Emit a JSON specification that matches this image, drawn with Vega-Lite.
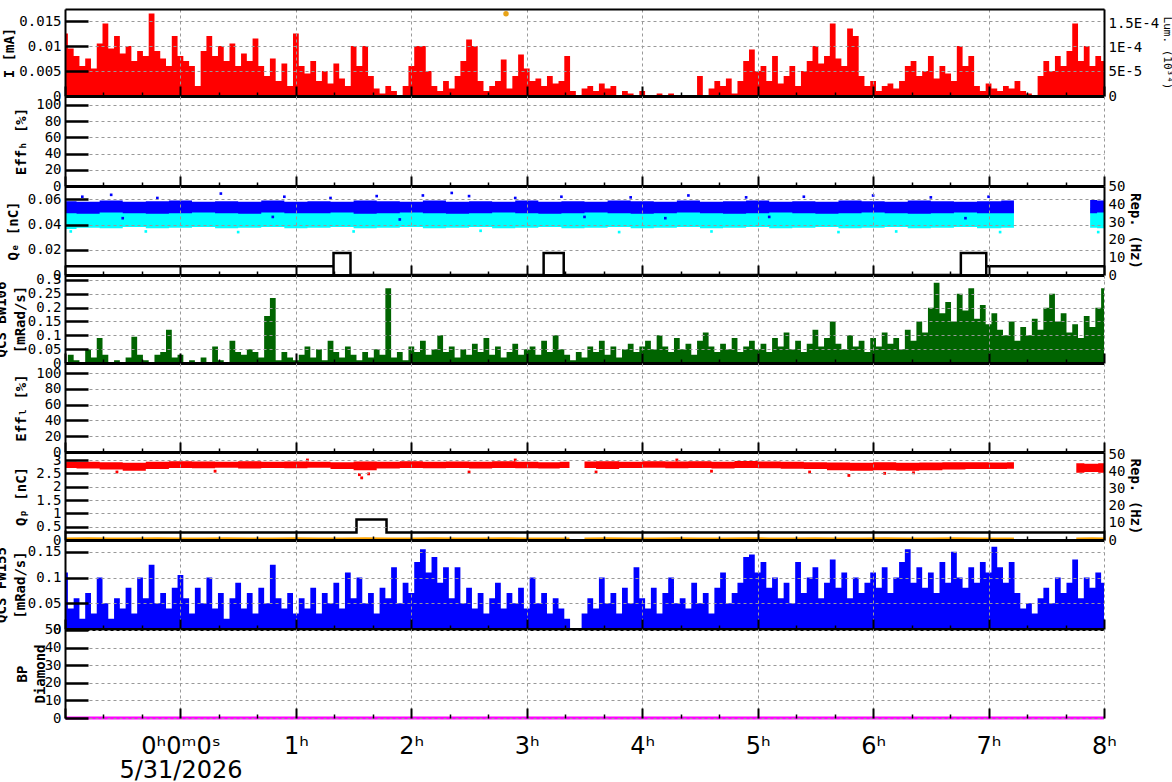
{
"$schema":"https://vega.github.io/schema/vega-lite/v6.json",
"padding":{"left":-6,"top":9,"right":0,"bottom":0},
"background":"white",
"bounds":"flush",
"spacing":0,
"config":{"view":{"stroke":null},
"axis":{"labelFont":"DejaVu Sans Mono","labelFontSize":14,"labelColor":"black","titleFont":"DejaVu Sans Mono","titleFontSize":14,"titleFontWeight":"bold","titleColor":"black","gridColor":"#999999","gridDash":[3,3],"gridWidth":1,"domainColor":"black","labelFlush":false,"labelOverlap":false,"labelBound":false}},
"datasets":{
"ax":[{"t":0,"v":0}],
"ts":[
{"t":-1.00,"i":0.0125,"b":0.000,"f":0.110},{"t":-0.95,"i":0.0095,"b":0.030,"f":0.040},{"t":-0.90,"i":0.0080,"b":0.010,"f":0.060},{"t":-0.85,"i":0.0060,"b":0.000,"f":0.020},{"t":-0.80,"i":0.0075,"b":0.050,"f":0.070},
{"t":-0.75,"i":0.0055,"b":0.020,"f":0.030},{"t":-0.70,"i":0.0105,"b":0.090,"f":0.100},{"t":-0.65,"i":0.0145,"b":0.030,"f":0.050},{"t":-0.60,"i":0.0095,"b":0.000,"f":0.020},{"t":-0.55,"i":0.0120,"b":0.010,"f":0.060},
{"t":-0.50,"i":0.0085,"b":0.000,"f":0.040},{"t":-0.45,"i":0.0100,"b":0.020,"f":0.080},{"t":-0.40,"i":0.0070,"b":0.095,"f":0.030},{"t":-0.35,"i":0.0090,"b":0.030,"f":0.100},{"t":-0.30,"i":0.0080,"b":0.010,"f":0.060},
{"t":-0.25,"i":0.0165,"b":0.000,"f":0.125},{"t":-0.20,"i":0.0090,"b":0.030,"f":0.050},{"t":-0.15,"i":0.0075,"b":0.040,"f":0.070},{"t":-0.10,"i":0.0060,"b":0.120,"f":0.040},{"t":-0.05,"i":0.0120,"b":0.020,"f":0.080},
{"t":0.00,"i":0.0080,"b":0.030,"f":0.105},{"t":0.05,"i":0.0070,"b":0.000,"f":0.060},{"t":0.10,"i":0.0060,"b":0.010,"f":0.030},{"t":0.15,"i":0.0020,"b":0.000,"f":0.080},{"t":0.20,"i":0.0090,"b":0.020,"f":0.050},
{"t":0.25,"i":0.0120,"b":0.000,"f":0.100},{"t":0.30,"i":0.0080,"b":0.060,"f":0.040},{"t":0.35,"i":0.0100,"b":0.010,"f":0.070},{"t":0.40,"i":0.0070,"b":0.000,"f":0.020},{"t":0.45,"i":0.0105,"b":0.080,"f":0.060},
{"t":0.50,"i":0.0060,"b":0.040,"f":0.090},{"t":0.55,"i":0.0085,"b":0.030,"f":0.040},{"t":0.60,"i":0.0070,"b":0.050,"f":0.070},{"t":0.65,"i":0.0115,"b":0.040,"f":0.030},{"t":0.70,"i":0.0060,"b":0.020,"f":0.080},
{"t":0.75,"i":0.0040,"b":0.170,"f":0.050},{"t":0.80,"i":0.0075,"b":0.235,"f":0.125},{"t":0.85,"i":0.0030,"b":0.010,"f":0.060},{"t":0.90,"i":0.0065,"b":0.040,"f":0.040},{"t":0.95,"i":0.0020,"b":0.020,"f":0.070},
{"t":1.00,"i":0.0125,"b":0.010,"f":0.030},{"t":1.05,"i":0.0060,"b":0.030,"f":0.060},{"t":1.10,"i":0.0045,"b":0.060,"f":0.040},{"t":1.15,"i":0.0070,"b":0.020,"f":0.080},{"t":1.20,"i":0.0030,"b":0.050,"f":0.030},
{"t":1.25,"i":0.0050,"b":0.010,"f":0.070},{"t":1.30,"i":0.0025,"b":0.080,"f":0.050},{"t":1.35,"i":0.0065,"b":0.040,"f":0.090},{"t":1.40,"i":0.0035,"b":0.020,"f":0.040},{"t":1.45,"i":0.0020,"b":0.060,"f":0.110},
{"t":1.50,"i":0.0100,"b":0.030,"f":0.060},{"t":1.55,"i":0.0060,"b":0.010,"f":0.100},{"t":1.60,"i":0.0100,"b":0.040,"f":0.050},{"t":1.65,"i":0.0040,"b":0.020,"f":0.070},{"t":1.70,"i":0.0015,"b":0.050,"f":0.030},
{"t":1.75,"i":0.0005,"b":0.030,"f":0.080},{"t":1.80,"i":0.0020,"b":0.270,"f":0.060},{"t":1.85,"i":0.0010,"b":0.020,"f":0.120},{"t":1.90,"i":0.0000,"b":0.040,"f":0.050},{"t":1.95,"i":0.0020,"b":0.010,"f":0.090},
{"t":2.00,"i":0.0060,"b":0.060,"f":0.070},{"t":2.05,"i":0.0100,"b":0.040,"f":0.130},{"t":2.10,"i":0.0100,"b":0.080,"f":0.155},{"t":2.15,"i":0.0050,"b":0.030,"f":0.110},{"t":2.20,"i":0.0020,"b":0.050,"f":0.140},
{"t":2.25,"i":0.0010,"b":0.100,"f":0.090},{"t":2.30,"i":0.0030,"b":0.040,"f":0.120},{"t":2.35,"i":0.0015,"b":0.060,"f":0.060},{"t":2.40,"i":0.0040,"b":0.020,"f":0.120},{"t":2.45,"i":0.0070,"b":0.050,"f":0.050},
{"t":2.50,"i":0.0113,"b":0.030,"f":0.080},{"t":2.55,"i":0.0100,"b":0.070,"f":0.040},{"t":2.60,"i":0.0030,"b":0.040,"f":0.070},{"t":2.65,"i":0.0010,"b":0.090,"f":0.030},{"t":2.70,"i":0.0020,"b":0.030,"f":0.060},
{"t":2.75,"i":0.0030,"b":0.060,"f":0.090},{"t":2.80,"i":0.0073,"b":0.020,"f":0.040},{"t":2.85,"i":0.0015,"b":0.040,"f":0.070},{"t":2.90,"i":0.0040,"b":0.070,"f":0.050},{"t":2.95,"i":0.0083,"b":0.030,"f":0.080},
{"t":3.00,"i":0.0055,"b":0.050,"f":0.040},{"t":3.05,"i":0.0030,"b":0.060,"f":0.100},{"t":3.10,"i":0.0035,"b":0.030,"f":0.050},{"t":3.15,"i":0.0020,"b":0.080,"f":0.070},{"t":3.20,"i":0.0040,"b":0.040,"f":0.030},
{"t":3.25,"i":0.0025,"b":0.100,"f":0.060},{"t":3.30,"i":0.0030,"b":0.050,"f":0.040},{"t":3.35,"i":0.0080,"b":0.030,"f":0.020},{"t":3.40,"i":0.0010,"b":0.010,"f":0.000},{"t":3.45,"i":0.0000,"b":0.040,"f":0.000},
{"t":3.50,"i":0.0015,"b":0.020,"f":0.030},{"t":3.55,"i":0.0020,"b":0.060,"f":0.060},{"t":3.60,"i":0.0010,"b":0.040,"f":0.040},{"t":3.65,"i":0.0025,"b":0.080,"f":0.100},{"t":3.70,"i":0.0015,"b":0.030,"f":0.050},
{"t":3.75,"i":0.0020,"b":0.060,"f":0.070},{"t":3.80,"i":0.0000,"b":0.020,"f":0.030},{"t":3.85,"i":0.0010,"b":0.050,"f":0.080},{"t":3.90,"i":0.0005,"b":0.070,"f":0.050},{"t":3.95,"i":0.0000,"b":0.040,"f":0.120},
{"t":4.00,"i":0.0010,"b":0.060,"f":0.060},{"t":4.05,"i":0.0000,"b":0.080,"f":0.040},{"t":4.10,"i":0.0000,"b":0.050,"f":0.080},{"t":4.15,"i":0.0005,"b":0.100,"f":0.030},{"t":4.20,"i":0.0000,"b":0.060,"f":0.070},
{"t":4.25,"i":0.0005,"b":0.040,"f":0.100},{"t":4.30,"i":0.0000,"b":0.090,"f":0.050},{"t":4.35,"i":0.0000,"b":0.050,"f":0.060},{"t":4.40,"i":0.0000,"b":0.070,"f":0.040},{"t":4.45,"i":0.0000,"b":0.030,"f":0.090},
{"t":4.50,"i":0.0040,"b":0.080,"f":0.050},{"t":4.55,"i":0.0000,"b":0.110,"f":0.070},{"t":4.60,"i":0.0015,"b":0.060,"f":0.030},{"t":4.65,"i":0.0030,"b":0.040,"f":0.080},{"t":4.70,"i":0.0020,"b":0.070,"f":0.110},
{"t":4.75,"i":0.0035,"b":0.050,"f":0.050},{"t":4.80,"i":0.0005,"b":0.090,"f":0.070},{"t":4.85,"i":0.0030,"b":0.040,"f":0.090},{"t":4.90,"i":0.0070,"b":0.060,"f":0.140},{"t":4.95,"i":0.0093,"b":0.080,"f":0.145},
{"t":5.00,"i":0.0050,"b":0.050,"f":0.110},{"t":5.05,"i":0.0060,"b":0.070,"f":0.130},{"t":5.10,"i":0.0030,"b":0.040,"f":0.080},{"t":5.15,"i":0.0080,"b":0.090,"f":0.100},{"t":5.20,"i":0.0025,"b":0.060,"f":0.060},
{"t":5.25,"i":0.0040,"b":0.110,"f":0.090},{"t":5.30,"i":0.0060,"b":0.050,"f":0.050},{"t":5.35,"i":0.0020,"b":0.080,"f":0.130},{"t":5.40,"i":0.0050,"b":0.040,"f":0.070},{"t":5.45,"i":0.0070,"b":0.070,"f":0.100},
{"t":5.50,"i":0.0100,"b":0.120,"f":0.120},{"t":5.55,"i":0.0065,"b":0.060,"f":0.060},{"t":5.60,"i":0.0080,"b":0.090,"f":0.090},{"t":5.65,"i":0.0145,"b":0.150,"f":0.135},{"t":5.70,"i":0.0075,"b":0.070,"f":0.080},
{"t":5.75,"i":0.0060,"b":0.050,"f":0.110},{"t":5.80,"i":0.0135,"b":0.100,"f":0.060},{"t":5.85,"i":0.0120,"b":0.060,"f":0.100},{"t":5.90,"i":0.0040,"b":0.080,"f":0.070},{"t":5.95,"i":0.0020,"b":0.040,"f":0.090},
{"t":6.00,"i":0.0030,"b":0.090,"f":0.110},{"t":6.05,"i":0.0010,"b":0.060,"f":0.080},{"t":6.10,"i":0.0020,"b":0.110,"f":0.120},{"t":6.15,"i":0.0025,"b":0.070,"f":0.070},{"t":6.20,"i":0.0015,"b":0.090,"f":0.100},
{"t":6.25,"i":0.0030,"b":0.050,"f":0.130},{"t":6.30,"i":0.0060,"b":0.120,"f":0.155},{"t":6.35,"i":0.0070,"b":0.080,"f":0.090},{"t":6.40,"i":0.0040,"b":0.150,"f":0.120},{"t":6.45,"i":0.0050,"b":0.110,"f":0.080},
{"t":6.50,"i":0.0080,"b":0.200,"f":0.110},{"t":6.55,"i":0.0035,"b":0.290,"f":0.070},{"t":6.60,"i":0.0060,"b":0.180,"f":0.130},{"t":6.65,"i":0.0045,"b":0.220,"f":0.090},{"t":6.70,"i":0.0030,"b":0.150,"f":0.150},
{"t":6.75,"i":0.0100,"b":0.250,"f":0.100},{"t":6.80,"i":0.0060,"b":0.190,"f":0.080},{"t":6.85,"i":0.0080,"b":0.270,"f":0.120},{"t":6.90,"i":0.0020,"b":0.160,"f":0.090},{"t":6.95,"i":0.0010,"b":0.210,"f":0.130},
{"t":7.00,"i":0.0025,"b":0.140,"f":0.110},{"t":7.05,"i":0.0015,"b":0.180,"f":0.160},{"t":7.10,"i":0.0010,"b":0.120,"f":0.120},{"t":7.15,"i":0.0020,"b":0.100,"f":0.090},{"t":7.20,"i":0.0015,"b":0.150,"f":0.130},
{"t":7.25,"i":0.0030,"b":0.080,"f":0.070},{"t":7.30,"i":0.0010,"b":0.130,"f":0.040},{"t":7.35,"i":0.0005,"b":0.100,"f":0.050},{"t":7.40,"i":0.0000,"b":0.160,"f":0.030},{"t":7.45,"i":0.0040,"b":0.120,"f":0.060},
{"t":7.50,"i":0.0070,"b":0.200,"f":0.080},{"t":7.55,"i":0.0050,"b":0.250,"f":0.050},{"t":7.60,"i":0.0080,"b":0.150,"f":0.100},{"t":7.65,"i":0.0060,"b":0.180,"f":0.070},{"t":7.70,"i":0.0090,"b":0.110,"f":0.090},
{"t":7.75,"i":0.0145,"b":0.140,"f":0.135},{"t":7.80,"i":0.0070,"b":0.090,"f":0.060},{"t":7.85,"i":0.0100,"b":0.170,"f":0.100},{"t":7.90,"i":0.0060,"b":0.130,"f":0.080},{"t":7.95,"i":0.0080,"b":0.200,"f":0.110},
{"t":8.00,"i":0.0070,"b":0.270,"f":0.090}],
"qe":[
{"t":-1.0,"seg":1,"clo":0.0365,"chi":0.0520,"blo":0.0490,"bhi":0.0585},{"t":-0.8,"seg":1,"clo":0.0375,"chi":0.0515,"blo":0.0485,"bhi":0.0580},{"t":-0.6,"seg":1,"clo":0.0370,"chi":0.0525,"blo":0.0495,"bhi":0.0590},{"t":-0.4,"seg":1,"clo":0.0380,"chi":0.0520,"blo":0.0490,"bhi":0.0580},
{"t":-0.2,"seg":1,"clo":0.0370,"chi":0.0515,"blo":0.0485,"bhi":0.0585},{"t":0.0,"seg":1,"clo":0.0375,"chi":0.0520,"blo":0.0490,"bhi":0.0590},{"t":0.2,"seg":1,"clo":0.0380,"chi":0.0525,"blo":0.0495,"bhi":0.0580},{"t":0.4,"seg":1,"clo":0.0370,"chi":0.0515,"blo":0.0490,"bhi":0.0585},
{"t":0.6,"seg":1,"clo":0.0375,"chi":0.0520,"blo":0.0485,"bhi":0.0580},{"t":0.8,"seg":1,"clo":0.0380,"chi":0.0525,"blo":0.0495,"bhi":0.0590},{"t":1.0,"seg":1,"clo":0.0370,"chi":0.0515,"blo":0.0490,"bhi":0.0580},{"t":1.2,"seg":1,"clo":0.0375,"chi":0.0520,"blo":0.0490,"bhi":0.0585},
{"t":1.4,"seg":1,"clo":0.0380,"chi":0.0525,"blo":0.0495,"bhi":0.0580},{"t":1.6,"seg":1,"clo":0.0370,"chi":0.0515,"blo":0.0485,"bhi":0.0590},{"t":1.8,"seg":1,"clo":0.0375,"chi":0.0520,"blo":0.0490,"bhi":0.0585},{"t":2.0,"seg":1,"clo":0.0380,"chi":0.0520,"blo":0.0495,"bhi":0.0580},
{"t":2.2,"seg":1,"clo":0.0370,"chi":0.0525,"blo":0.0490,"bhi":0.0590},{"t":2.4,"seg":1,"clo":0.0375,"chi":0.0515,"blo":0.0485,"bhi":0.0580},{"t":2.6,"seg":1,"clo":0.0380,"chi":0.0520,"blo":0.0490,"bhi":0.0585},{"t":2.8,"seg":1,"clo":0.0370,"chi":0.0525,"blo":0.0495,"bhi":0.0580},
{"t":3.0,"seg":1,"clo":0.0375,"chi":0.0515,"blo":0.0490,"bhi":0.0590},{"t":3.2,"seg":1,"clo":0.0380,"chi":0.0520,"blo":0.0485,"bhi":0.0580},{"t":3.4,"seg":1,"clo":0.0370,"chi":0.0525,"blo":0.0490,"bhi":0.0585},{"t":3.6,"seg":1,"clo":0.0375,"chi":0.0520,"blo":0.0495,"bhi":0.0580},
{"t":3.8,"seg":1,"clo":0.0380,"chi":0.0515,"blo":0.0490,"bhi":0.0590},{"t":4.0,"seg":1,"clo":0.0370,"chi":0.0520,"blo":0.0485,"bhi":0.0585},{"t":4.2,"seg":1,"clo":0.0375,"chi":0.0525,"blo":0.0490,"bhi":0.0580},{"t":4.4,"seg":1,"clo":0.0380,"chi":0.0515,"blo":0.0495,"bhi":0.0590},
{"t":4.6,"seg":1,"clo":0.0370,"chi":0.0520,"blo":0.0490,"bhi":0.0580},{"t":4.8,"seg":1,"clo":0.0375,"chi":0.0525,"blo":0.0485,"bhi":0.0585},{"t":5.0,"seg":1,"clo":0.0380,"chi":0.0520,"blo":0.0490,"bhi":0.0590},{"t":5.2,"seg":1,"clo":0.0370,"chi":0.0515,"blo":0.0495,"bhi":0.0580},
{"t":5.4,"seg":1,"clo":0.0375,"chi":0.0520,"blo":0.0490,"bhi":0.0585},{"t":5.6,"seg":1,"clo":0.0380,"chi":0.0525,"blo":0.0485,"bhi":0.0580},{"t":5.8,"seg":1,"clo":0.0370,"chi":0.0520,"blo":0.0490,"bhi":0.0590},{"t":6.0,"seg":1,"clo":0.0375,"chi":0.0515,"blo":0.0495,"bhi":0.0585},
{"t":6.2,"seg":1,"clo":0.0380,"chi":0.0520,"blo":0.0490,"bhi":0.0580},{"t":6.4,"seg":1,"clo":0.0370,"chi":0.0525,"blo":0.0485,"bhi":0.0590},{"t":6.6,"seg":1,"clo":0.0375,"chi":0.0520,"blo":0.0490,"bhi":0.0585},{"t":6.8,"seg":1,"clo":0.0380,"chi":0.0515,"blo":0.0495,"bhi":0.0580},
{"t":7.0,"seg":1,"clo":0.0370,"chi":0.0520,"blo":0.0490,"bhi":0.0585},{"t":7.22,"seg":1,"clo":0.0375,"chi":0.0525,"blo":0.0490,"bhi":0.0590},
{"t":7.88,"seg":2,"clo":0.0375,"chi":0.0530,"blo":0.0490,"bhi":0.0595},{"t":8.0,"seg":2,"clo":0.0370,"chi":0.0525,"blo":0.0495,"bhi":0.0590}],
"qeo":[
{"t":-0.85,"v":0.062,"s":"b"},{"t":-0.6,"v":0.0635,"s":"b"},{"t":-0.2,"v":0.061,"s":"b"},{"t":0.35,"v":0.0645,"s":"b"},{"t":0.9,"v":0.062,"s":"b"},{"t":1.3,"v":0.061,"s":"b"},{"t":1.7,"v":0.0625,"s":"b"},{"t":2.1,"v":0.063,"s":"b"},{"t":2.35,"v":0.065,"s":"b"},{"t":2.5,"v":0.0625,"s":"b"},{"t":2.9,"v":0.061,"s":"b"},{"t":3.3,"v":0.062,"s":"b"},{"t":3.9,"v":0.0615,"s":"b"},{"t":4.4,"v":0.063,"s":"b"},{"t":4.9,"v":0.0615,"s":"b"},{"t":5.4,"v":0.062,"s":"b"},{"t":6.0,"v":0.063,"s":"b"},{"t":6.5,"v":0.0615,"s":"b"},{"t":7.0,"v":0.062,"s":"b"},
{"t":-0.5,"v":0.045,"s":"b"},{"t":0.8,"v":0.046,"s":"b"},{"t":1.9,"v":0.044,"s":"b"},{"t":3.5,"v":0.046,"s":"b"},{"t":4.2,"v":0.045,"s":"b"},{"t":5.1,"v":0.046,"s":"b"},{"t":6.8,"v":0.045,"s":"b"},
{"t":-0.95,"v":0.0345,"s":"c"},{"t":-0.3,"v":0.0345,"s":"c"},{"t":0.5,"v":0.034,"s":"c"},{"t":1.5,"v":0.0345,"s":"c"},{"t":2.6,"v":0.035,"s":"c"},{"t":3.8,"v":0.034,"s":"c"},{"t":4.6,"v":0.0345,"s":"c"},{"t":5.7,"v":0.034,"s":"c"},{"t":6.2,"v":0.0345,"s":"c"},{"t":7.1,"v":0.034,"s":"c"},{"t":7.95,"v":0.034,"s":"c"}],
"qp":[
{"t":-1.0,"seg":1,"lo":2.70,"hi":2.94,"o":0.04},{"t":-0.8,"seg":1,"lo":2.68,"hi":2.93,"o":0.05},{"t":-0.6,"seg":1,"lo":2.64,"hi":2.92,"o":0.04},{"t":-0.4,"seg":1,"lo":2.60,"hi":2.90,"o":0.04},{"t":-0.2,"seg":1,"lo":2.66,"hi":2.93,"o":0.05},
{"t":0.0,"seg":1,"lo":2.70,"hi":2.95,"o":0.04},{"t":0.2,"seg":1,"lo":2.69,"hi":2.94,"o":0.04},{"t":0.4,"seg":1,"lo":2.71,"hi":2.93,"o":0.05},{"t":0.6,"seg":1,"lo":2.68,"hi":2.95,"o":0.04},{"t":0.8,"seg":1,"lo":2.70,"hi":2.93,"o":0.04},
{"t":1.0,"seg":1,"lo":2.69,"hi":2.94,"o":0.05},{"t":1.2,"seg":1,"lo":2.71,"hi":2.93,"o":0.04},{"t":1.4,"seg":1,"lo":2.66,"hi":2.92,"o":0.04},{"t":1.6,"seg":1,"lo":2.62,"hi":2.94,"o":0.05},{"t":1.8,"seg":1,"lo":2.68,"hi":2.93,"o":0.04},
{"t":2.0,"seg":1,"lo":2.70,"hi":2.95,"o":0.04},{"t":2.2,"seg":1,"lo":2.69,"hi":2.93,"o":0.05},{"t":2.4,"seg":1,"lo":2.70,"hi":2.94,"o":0.04},{"t":2.6,"seg":1,"lo":2.68,"hi":2.93,"o":0.04},{"t":2.8,"seg":1,"lo":2.70,"hi":2.95,"o":0.05},
{"t":3.0,"seg":1,"lo":2.69,"hi":2.93,"o":0.04},{"t":3.2,"seg":1,"lo":2.68,"hi":2.92,"o":0.04},{"t":3.37,"seg":1,"lo":2.70,"hi":2.93,"o":0.04},
{"t":3.5,"seg":2,"lo":2.70,"hi":2.94,"o":0.04},{"t":3.7,"seg":2,"lo":2.66,"hi":2.95,"o":0.05},{"t":3.9,"seg":2,"lo":2.70,"hi":2.93,"o":0.04},{"t":4.1,"seg":2,"lo":2.71,"hi":2.95,"o":0.04},{"t":4.3,"seg":2,"lo":2.69,"hi":2.94,"o":0.05},
{"t":4.5,"seg":2,"lo":2.70,"hi":2.95,"o":0.04},{"t":4.7,"seg":2,"lo":2.68,"hi":2.93,"o":0.04},{"t":4.9,"seg":2,"lo":2.70,"hi":2.96,"o":0.05},{"t":5.1,"seg":2,"lo":2.69,"hi":2.94,"o":0.04},{"t":5.3,"seg":2,"lo":2.67,"hi":2.93,"o":0.04},
{"t":5.5,"seg":2,"lo":2.66,"hi":2.92,"o":0.05},{"t":5.7,"seg":2,"lo":2.62,"hi":2.91,"o":0.04},{"t":5.9,"seg":2,"lo":2.60,"hi":2.90,"o":0.04},{"t":6.1,"seg":2,"lo":2.62,"hi":2.92,"o":0.05},{"t":6.3,"seg":2,"lo":2.60,"hi":2.90,"o":0.04},
{"t":6.5,"seg":2,"lo":2.62,"hi":2.91,"o":0.04},{"t":6.7,"seg":2,"lo":2.64,"hi":2.92,"o":0.05},{"t":6.9,"seg":2,"lo":2.66,"hi":2.92,"o":0.04},{"t":7.1,"seg":2,"lo":2.66,"hi":2.91,"o":0.04},{"t":7.22,"seg":2,"lo":2.67,"hi":2.92,"o":0.04},
{"t":7.76,"seg":3,"lo":2.52,"hi":2.88,"o":0.04},{"t":7.9,"seg":3,"lo":2.55,"hi":2.86,"o":0.05},{"t":8.0,"seg":3,"lo":2.52,"hi":2.88,"o":0.04}],
"qpo":[{"t":1.57,"v":2.33},{"t":1.55,"v":2.45},{"t":1.63,"v":2.48},{"t":-0.55,"v":2.55},{"t":2.5,"v":2.55},{"t":3.6,"v":2.55},{"t":4.6,"v":2.58},{"t":5.45,"v":2.55},{"t":5.79,"v":2.42},{"t":6.1,"v":2.5},{"t":6.35,"v":2.52},{"t":0.3,"v":2.58},{"t":4.3,"v":3.0},{"t":2.9,"v":3.0},{"t":1.1,"v":3.0}],
"repe":[{"k":0,"t":-1,"v":5},{"k":1,"t":1.326,"v":5},{"k":2,"t":1.326,"v":0},{"k":3,"t":1.326,"v":12.5},{"k":4,"t":1.473,"v":12.5},{"k":5,"t":1.473,"v":0},{"k":6,"t":3.146,"v":0},{"k":7,"t":3.146,"v":12.5},{"k":8,"t":3.32,"v":12.5},{"k":9,"t":3.32,"v":0},{"k":10,"t":6.76,"v":0},{"k":11,"t":6.76,"v":12.5},{"k":12,"t":6.98,"v":12.5},{"k":13,"t":6.98,"v":0},{"k":14,"t":6.98,"v":5},{"k":15,"t":8,"v":5}],
"repp":[{"k":0,"t":-1,"v":4.4},{"k":1,"t":1.525,"v":4.4},{"k":2,"t":1.525,"v":12},{"k":3,"t":1.785,"v":12},{"k":4,"t":1.785,"v":4.4},{"k":5,"t":8,"v":4.4}],
"lum":[{"t":2.82,"v":0.000171}],
"bp":[{"t":-1,"v":0},{"t":8,"v":0}]
},
"vconcat":[
{"width":1039,"height":87,"layer":[
{"data":{"name":"ts"},"mark":{"type":"area","interpolate":"step","color":"#FF0000"},"encoding":{"x":{"field":"t","type":"quantitative","scale":{"domain":[-1,8],"nice":false,"zero":false},"axis":{"orient":"bottom","values":[0,1,2,3,4,5,6,7,8],"grid":true,"ticks":false,"labels":false,"domain":true,"domainWidth":3,"title":null,"zindex":1}},"y":{"field":"i","type":"quantitative","scale":{"domain":[0,0.0174],"nice":false},"axis":{"orient":"left","values":[0,0.005,0.01,0.015],"format":"~r","grid":true,"ticks":true,"tickSize":-23,"tickWidth":2.5,"tickColor":"#000000","domain":true,"domainWidth":2,"zindex":1,"labelPadding":27,"title":"I [mA]","titleX":-56,"titleY":43.5,"titleAngle":270,"titleAlign":"center","titleBaseline":"middle"}}}},
{"data":{"name":"ax"},"mark":{"type":"point","opacity":0},"encoding":{"x":{"field":"t","type":"quantitative","scale":{"domain":[-1,8],"nice":false,"zero":false},"axis":{"orient":"bottom","offset":-10,"values":[-1,0,1,2,3,4,5,6,7,8],"ticks":true,"tickSize":10,"tickWidth":2,"tickColor":"#000000","labels":false,"grid":false,"domain":false,"title":null,"zindex":1}},"y":{"field":"v","type":"quantitative","scale":{"domain":[0,0.0174],"nice":false},"axis":null}}},
{"data":{"name":"ax"},"mark":{"type":"point","opacity":0},"encoding":{"x":{"field":"t","type":"quantitative","scale":{"domain":[-1,8],"nice":false,"zero":false},"axis":{"orient":"bottom","offset":-4,"values":[-0.6667,-0.3333,0.3333,0.6667,1.3333,1.6667,2.3333,2.6667,3.3333,3.6667,4.3333,4.6667,5.3333,5.6667,6.3333,6.6667,7.3333,7.6667],"ticks":true,"tickSize":4,"tickWidth":1.5,"tickColor":"#000000","labels":false,"grid":false,"domain":false,"title":null,"zindex":1}},"y":{"field":"v","type":"quantitative","scale":{"domain":[0,0.0174],"nice":false},"axis":null}}},
{"data":{"name":"lum"},"mark":{"type":"circle","color":"#E8A317","size":30,"opacity":1},"encoding":{"x":{"field":"t","type":"quantitative","scale":{"domain":[-1,8],"nice":false,"zero":false},"axis":{"orient":"top","ticks":false,"labels":false,"grid":false,"domain":true,"domainWidth":2,"title":null,"zindex":1}},"y":{"field":"v","type":"quantitative","scale":{"domain":[0,0.000181],"nice":false},"axis":{"orient":"right","values":[0,0.00005,0.0001,0.00015],"labelExpr":"datum.value==0?'0':datum.value<0.00006?'5E-5':datum.value<0.00011?'1E-4':'1.5E-4'","grid":false,"ticks":false,"domain":true,"domainWidth":2,"zindex":1,"labelPadding":4,"title":"Lum. (10³⁴)","titleX":62,"titleY":43.5,"titleAngle":90,"titleAlign":"center","titleBaseline":"middle","titleFontWeight":"normal","titleFontSize":11}}}}
],"resolve":{"scale":{"y":"independent"},"axis":{"x":"independent","y":"independent"}}},

{"width":1039,"height":90,"layer":[
{"data":{"name":"ax"},"mark":{"type":"point","opacity":0},"encoding":{"x":{"field":"t","type":"quantitative","scale":{"domain":[-1,8],"nice":false,"zero":false},"axis":{"orient":"bottom","values":[0,1,2,3,4,5,6,7,8],"grid":true,"ticks":false,"labels":false,"domain":true,"domainWidth":3,"title":null,"zindex":1}},"y":{"field":"v","type":"quantitative","scale":{"domain":[0,111],"nice":false},"axis":{"orient":"left","values":[0,20,40,60,80,100],"format":"~r","grid":true,"ticks":true,"tickSize":-23,"tickWidth":2.5,"tickColor":"#000000","domain":true,"domainWidth":2,"zindex":1,"labelPadding":27,"title":"Effₕ [%]","titleX":-44,"titleY":45,"titleAngle":270,"titleAlign":"center","titleBaseline":"middle"}}}},
{"data":{"name":"ax"},"mark":{"type":"point","opacity":0},"encoding":{"x":{"field":"t","type":"quantitative","scale":{"domain":[-1,8],"nice":false,"zero":false},"axis":{"orient":"bottom","offset":-10,"values":[-1,0,1,2,3,4,5,6,7,8],"ticks":true,"tickSize":10,"tickWidth":2,"tickColor":"#000000","labels":false,"grid":false,"domain":false,"title":null,"zindex":1}},"y":{"field":"v","type":"quantitative","scale":{"domain":[0,111],"nice":false},"axis":null}}},
{"data":{"name":"ax"},"mark":{"type":"point","opacity":0},"encoding":{"x":{"field":"t","type":"quantitative","scale":{"domain":[-1,8],"nice":false,"zero":false},"axis":{"orient":"bottom","offset":-4,"values":[-0.6667,-0.3333,0.3333,0.6667,1.3333,1.6667,2.3333,2.6667,3.3333,3.6667,4.3333,4.6667,5.3333,5.6667,6.3333,6.6667,7.3333,7.6667],"ticks":true,"tickSize":4,"tickWidth":1.5,"tickColor":"#000000","labels":false,"grid":false,"domain":false,"title":null,"zindex":1}},"y":{"field":"v","type":"quantitative","scale":{"domain":[0,111],"nice":false},"axis":null}}}
],"resolve":{"scale":{"y":"independent"},"axis":{"x":"independent","y":"independent"}}},

{"width":1039,"height":89,"layer":[
{"data":{"name":"qe"},"mark":{"type":"area","interpolate":"step","color":"#00FFFF"},"encoding":{"detail":{"field":"seg"},"x":{"field":"t","type":"quantitative","scale":{"domain":[-1,8],"nice":false,"zero":false},"axis":{"orient":"bottom","values":[0,1,2,3,4,5,6,7,8],"grid":true,"ticks":false,"labels":false,"domain":true,"domainWidth":3,"title":null,"zindex":1}},"y":{"field":"clo","type":"quantitative","scale":{"domain":[0,0.0705],"nice":false},"axis":{"orient":"left","values":[0,0.02,0.04,0.06],"format":"~r","grid":true,"ticks":true,"tickSize":-23,"tickWidth":2.5,"tickColor":"#000000","domain":true,"domainWidth":2,"zindex":1,"labelPadding":27,"title":"Qₑ [nC]","titleX":-52,"titleY":44.5,"titleAngle":270,"titleAlign":"center","titleBaseline":"middle"}},"y2":{"field":"chi"}}},
{"data":{"name":"qe"},"mark":{"type":"area","interpolate":"step","color":"#0000FF"},"encoding":{"detail":{"field":"seg"},"x":{"field":"t","type":"quantitative","scale":{"domain":[-1,8],"nice":false,"zero":false},"axis":null},"y":{"field":"blo","type":"quantitative","scale":{"domain":[0,0.0705],"nice":false},"axis":null},"y2":{"field":"bhi"}}},
{"data":{"name":"qeo"},"mark":{"type":"square","size":7,"opacity":1},"encoding":{"x":{"field":"t","type":"quantitative","scale":{"domain":[-1,8],"nice":false,"zero":false},"axis":null},"y":{"field":"v","type":"quantitative","scale":{"domain":[0,0.0705],"nice":false},"axis":null},"color":{"field":"s","type":"nominal","scale":{"domain":["b","c"],"range":["#0000FF","#00FFFF"]},"legend":null}}},
{"data":{"name":"ax"},"mark":{"type":"point","opacity":0},"encoding":{"x":{"field":"t","type":"quantitative","scale":{"domain":[-1,8],"nice":false,"zero":false},"axis":{"orient":"bottom","offset":-10,"values":[-1,0,1,2,3,4,5,6,7,8],"ticks":true,"tickSize":10,"tickWidth":2,"tickColor":"#000000","labels":false,"grid":false,"domain":false,"title":null,"zindex":1}},"y":{"field":"v","type":"quantitative","scale":{"domain":[0,0.0705],"nice":false},"axis":null}}},
{"data":{"name":"ax"},"mark":{"type":"point","opacity":0},"encoding":{"x":{"field":"t","type":"quantitative","scale":{"domain":[-1,8],"nice":false,"zero":false},"axis":{"orient":"bottom","offset":-4,"values":[-0.6667,-0.3333,0.3333,0.6667,1.3333,1.6667,2.3333,2.6667,3.3333,3.6667,4.3333,4.6667,5.3333,5.6667,6.3333,6.6667,7.3333,7.6667],"ticks":true,"tickSize":4,"tickWidth":1.5,"tickColor":"#000000","labels":false,"grid":false,"domain":false,"title":null,"zindex":1}},"y":{"field":"v","type":"quantitative","scale":{"domain":[0,0.0705],"nice":false},"axis":null}}},
{"data":{"name":"repe"},"mark":{"type":"line","color":"black","strokeWidth":2.5},"encoding":{"order":{"field":"k"},"x":{"field":"t","type":"quantitative","scale":{"domain":[-1,8],"nice":false,"zero":false},"axis":null},"y":{"field":"v","type":"quantitative","scale":{"domain":[0,50.5],"nice":false},"axis":{"orient":"right","values":[0,10,20,30,40,50],"format":"~r","grid":false,"ticks":false,"domain":true,"domainWidth":2,"zindex":1,"labelPadding":4,"title":"Rep. (Hz)","titleX":30,"titleY":44.5,"titleAngle":90,"titleAlign":"center","titleBaseline":"middle"}}}}
],"resolve":{"scale":{"y":"independent"},"axis":{"x":"independent","y":"independent"}}},

{"width":1039,"height":88,"layer":[
{"data":{"name":"ts"},"mark":{"type":"area","interpolate":"step","color":"#006400"},"encoding":{"x":{"field":"t","type":"quantitative","scale":{"domain":[-1,8],"nice":false,"zero":false},"axis":{"orient":"bottom","values":[0,1,2,3,4,5,6,7,8],"grid":true,"ticks":false,"labels":false,"domain":true,"domainWidth":3,"title":null,"zindex":1}},"y":{"field":"b","type":"quantitative","scale":{"domain":[0,0.318],"nice":false},"axis":{"orient":"left","values":[0,0.05,0.1,0.15,0.2,0.25,0.3],"format":"~r","grid":true,"ticks":true,"tickSize":-23,"tickWidth":2.5,"tickColor":"#000000","domain":true,"domainWidth":2,"zindex":1,"labelPadding":27,"title":["QCS BW106","[mRad/s]"],"titleLineHeight":19,"titleX":-64,"titleY":44,"titleAngle":270,"titleAlign":"center","titleBaseline":"middle"}}}},
{"data":{"name":"ax"},"mark":{"type":"point","opacity":0},"encoding":{"x":{"field":"t","type":"quantitative","scale":{"domain":[-1,8],"nice":false,"zero":false},"axis":{"orient":"bottom","offset":-10,"values":[-1,0,1,2,3,4,5,6,7,8],"ticks":true,"tickSize":10,"tickWidth":2,"tickColor":"#000000","labels":false,"grid":false,"domain":false,"title":null,"zindex":1}},"y":{"field":"v","type":"quantitative","scale":{"domain":[0,0.318],"nice":false},"axis":null}}},
{"data":{"name":"ax"},"mark":{"type":"point","opacity":0},"encoding":{"x":{"field":"t","type":"quantitative","scale":{"domain":[-1,8],"nice":false,"zero":false},"axis":{"orient":"bottom","offset":-4,"values":[-0.6667,-0.3333,0.3333,0.6667,1.3333,1.6667,2.3333,2.6667,3.3333,3.6667,4.3333,4.6667,5.3333,5.6667,6.3333,6.6667,7.3333,7.6667],"ticks":true,"tickSize":4,"tickWidth":1.5,"tickColor":"#000000","labels":false,"grid":false,"domain":false,"title":null,"zindex":1}},"y":{"field":"v","type":"quantitative","scale":{"domain":[0,0.318],"nice":false},"axis":null}}}
],"resolve":{"scale":{"y":"independent"},"axis":{"x":"independent","y":"independent"}}},

{"width":1039,"height":89,"layer":[
{"data":{"name":"ax"},"mark":{"type":"point","opacity":0},"encoding":{"x":{"field":"t","type":"quantitative","scale":{"domain":[-1,8],"nice":false,"zero":false},"axis":{"orient":"bottom","values":[0,1,2,3,4,5,6,7,8],"grid":true,"ticks":false,"labels":false,"domain":true,"domainWidth":3,"title":null,"zindex":1}},"y":{"field":"v","type":"quantitative","scale":{"domain":[0,113],"nice":false},"axis":{"orient":"left","values":[0,20,40,60,80,100],"format":"~r","grid":true,"ticks":true,"tickSize":-23,"tickWidth":2.5,"tickColor":"#000000","domain":true,"domainWidth":2,"zindex":1,"labelPadding":27,"title":"Effₗ [%]","titleX":-44,"titleY":44.5,"titleAngle":270,"titleAlign":"center","titleBaseline":"middle"}}}},
{"data":{"name":"ax"},"mark":{"type":"point","opacity":0},"encoding":{"x":{"field":"t","type":"quantitative","scale":{"domain":[-1,8],"nice":false,"zero":false},"axis":{"orient":"bottom","offset":-10,"values":[-1,0,1,2,3,4,5,6,7,8],"ticks":true,"tickSize":10,"tickWidth":2,"tickColor":"#000000","labels":false,"grid":false,"domain":false,"title":null,"zindex":1}},"y":{"field":"v","type":"quantitative","scale":{"domain":[0,113],"nice":false},"axis":null}}},
{"data":{"name":"ax"},"mark":{"type":"point","opacity":0},"encoding":{"x":{"field":"t","type":"quantitative","scale":{"domain":[-1,8],"nice":false,"zero":false},"axis":{"orient":"bottom","offset":-4,"values":[-0.6667,-0.3333,0.3333,0.6667,1.3333,1.6667,2.3333,2.6667,3.3333,3.6667,4.3333,4.6667,5.3333,5.6667,6.3333,6.6667,7.3333,7.6667],"ticks":true,"tickSize":4,"tickWidth":1.5,"tickColor":"#000000","labels":false,"grid":false,"domain":false,"title":null,"zindex":1}},"y":{"field":"v","type":"quantitative","scale":{"domain":[0,113],"nice":false},"axis":null}}}
],"resolve":{"scale":{"y":"independent"},"axis":{"x":"independent","y":"independent"}}},

{"width":1039,"height":88,"layer":[
{"data":{"name":"qp"},"mark":{"type":"area","interpolate":"step","color":"#FF0000"},"encoding":{"detail":{"field":"seg"},"x":{"field":"t","type":"quantitative","scale":{"domain":[-1,8],"nice":false,"zero":false},"axis":{"orient":"bottom","values":[0,1,2,3,4,5,6,7,8],"grid":true,"ticks":false,"labels":false,"domain":true,"domainWidth":3,"title":null,"zindex":1}},"y":{"field":"lo","type":"quantitative","scale":{"domain":[0,3.3],"nice":false},"axis":{"orient":"left","values":[0,0.5,1,1.5,2,2.5,3],"format":"~r","grid":true,"ticks":true,"tickSize":-23,"tickWidth":2.5,"tickColor":"#000000","domain":true,"domainWidth":2,"zindex":1,"labelPadding":27,"title":"Qₚ [nC]","titleX":-44,"titleY":44,"titleAngle":270,"titleAlign":"center","titleBaseline":"middle"}},"y2":{"field":"hi"}}},
{"data":{"name":"qpo"},"mark":{"type":"square","size":8,"color":"#FF0000","opacity":1},"encoding":{"x":{"field":"t","type":"quantitative","scale":{"domain":[-1,8],"nice":false,"zero":false},"axis":null},"y":{"field":"v","type":"quantitative","scale":{"domain":[0,3.3],"nice":false},"axis":null}}},
{"data":{"name":"qp"},"mark":{"type":"line","color":"#FFA500","strokeWidth":3},"encoding":{"detail":{"field":"seg"},"x":{"field":"t","type":"quantitative","scale":{"domain":[-1,8],"nice":false,"zero":false},"axis":null},"y":{"field":"o","type":"quantitative","scale":{"domain":[0,3.3],"nice":false},"axis":null}}},
{"data":{"name":"ax"},"mark":{"type":"point","opacity":0},"encoding":{"x":{"field":"t","type":"quantitative","scale":{"domain":[-1,8],"nice":false,"zero":false},"axis":{"orient":"bottom","offset":-10,"values":[-1,0,1,2,3,4,5,6,7,8],"ticks":true,"tickSize":10,"tickWidth":2,"tickColor":"#000000","labels":false,"grid":false,"domain":false,"title":null,"zindex":1}},"y":{"field":"v","type":"quantitative","scale":{"domain":[0,3.3],"nice":false},"axis":null}}},
{"data":{"name":"ax"},"mark":{"type":"point","opacity":0},"encoding":{"x":{"field":"t","type":"quantitative","scale":{"domain":[-1,8],"nice":false,"zero":false},"axis":{"orient":"bottom","offset":-4,"values":[-0.6667,-0.3333,0.3333,0.6667,1.3333,1.6667,2.3333,2.6667,3.3333,3.6667,4.3333,4.6667,5.3333,5.6667,6.3333,6.6667,7.3333,7.6667],"ticks":true,"tickSize":4,"tickWidth":1.5,"tickColor":"#000000","labels":false,"grid":false,"domain":false,"title":null,"zindex":1}},"y":{"field":"v","type":"quantitative","scale":{"domain":[0,3.3],"nice":false},"axis":null}}},
{"data":{"name":"repp"},"mark":{"type":"line","color":"black","strokeWidth":2.5},"encoding":{"order":{"field":"k"},"x":{"field":"t","type":"quantitative","scale":{"domain":[-1,8],"nice":false,"zero":false},"axis":null},"y":{"field":"v","type":"quantitative","scale":{"domain":[0,51.2],"nice":false},"axis":{"orient":"right","values":[0,10,20,30,40,50],"format":"~r","grid":false,"ticks":false,"domain":true,"domainWidth":2,"zindex":1,"labelPadding":4,"title":"Rep. (Hz)","titleX":30,"titleY":44,"titleAngle":90,"titleAlign":"center","titleBaseline":"middle"}}}}
],"resolve":{"scale":{"y":"independent"},"axis":{"x":"independent","y":"independent"}}},

{"width":1039,"height":89,"layer":[
{"data":{"name":"ts"},"mark":{"type":"area","interpolate":"step","color":"#0000FF"},"encoding":{"x":{"field":"t","type":"quantitative","scale":{"domain":[-1,8],"nice":false,"zero":false},"axis":{"orient":"bottom","values":[0,1,2,3,4,5,6,7,8],"grid":true,"ticks":false,"labels":false,"domain":true,"domainWidth":3,"title":null,"zindex":1}},"y":{"field":"f","type":"quantitative","scale":{"domain":[0,0.173],"nice":false},"axis":{"orient":"left","values":[0,0.05,0.1,0.15],"format":"~r","grid":true,"ticks":true,"tickSize":-23,"tickWidth":2.5,"tickColor":"#000000","domain":true,"domainWidth":2,"zindex":1,"labelPadding":27,"title":["QCS FW155","[mRad/s]"],"titleLineHeight":19,"titleX":-64,"titleY":44.5,"titleAngle":270,"titleAlign":"center","titleBaseline":"middle"}}}},
{"data":{"name":"ax"},"mark":{"type":"point","opacity":0},"encoding":{"x":{"field":"t","type":"quantitative","scale":{"domain":[-1,8],"nice":false,"zero":false},"axis":{"orient":"bottom","offset":-10,"values":[-1,0,1,2,3,4,5,6,7,8],"ticks":true,"tickSize":10,"tickWidth":2,"tickColor":"#000000","labels":false,"grid":false,"domain":false,"title":null,"zindex":1}},"y":{"field":"v","type":"quantitative","scale":{"domain":[0,0.173],"nice":false},"axis":null}}},
{"data":{"name":"ax"},"mark":{"type":"point","opacity":0},"encoding":{"x":{"field":"t","type":"quantitative","scale":{"domain":[-1,8],"nice":false,"zero":false},"axis":{"orient":"bottom","offset":-4,"values":[-0.6667,-0.3333,0.3333,0.6667,1.3333,1.6667,2.3333,2.6667,3.3333,3.6667,4.3333,4.6667,5.3333,5.6667,6.3333,6.6667,7.3333,7.6667],"ticks":true,"tickSize":4,"tickWidth":1.5,"tickColor":"#000000","labels":false,"grid":false,"domain":false,"title":null,"zindex":1}},"y":{"field":"v","type":"quantitative","scale":{"domain":[0,0.173],"nice":false},"axis":null}}}
],"resolve":{"scale":{"y":"independent"},"axis":{"x":"independent","y":"independent"}}},

{"width":1039,"height":89,"layer":[
{"data":{"name":"bp"},"mark":{"type":"line","color":"#FF00FF","strokeWidth":3},"encoding":{"x":{"field":"t","type":"quantitative","scale":{"domain":[-1,8],"nice":false,"zero":false},"axis":{"orient":"bottom","values":[0,1,2,3,4,5,6,7,8],"grid":true,"ticks":false,"labels":true,"labelFont":"DejaVu Sans","labelFontSize":24,"labelPadding":16,"labelLineHeight":24,"labelAlign":"center","labelExpr":"datum.value==0 ? ['\u2007\u20070ʰ0ᵐ0ˢ','5/31/2026'] : datum.value + 'ʰ'","domain":false,"title":null,"zindex":1}},"y":{"field":"v","type":"quantitative","scale":{"domain":[0,50.5],"nice":false},"axis":{"orient":"left","values":[0,10,20,30,40,50],"format":"~r","grid":true,"ticks":true,"tickSize":-23,"tickWidth":2.5,"tickColor":"#000000","domain":true,"domainWidth":2,"zindex":1,"labelPadding":27,"title":["BP","Diamond"],"titleLineHeight":18,"titleX":-43,"titleY":44.5,"titleAngle":270,"titleAlign":"center","titleBaseline":"middle"}}}},
{"data":{"name":"ax"},"mark":{"type":"point","opacity":0},"encoding":{"x":{"field":"t","type":"quantitative","scale":{"domain":[-1,8],"nice":false,"zero":false},"axis":{"orient":"bottom","offset":-10,"values":[-1,0,1,2,3,4,5,6,7,8],"ticks":true,"tickSize":10,"tickWidth":2,"tickColor":"#000000","labels":false,"grid":false,"domain":false,"title":null,"zindex":1}},"y":{"field":"v","type":"quantitative","scale":{"domain":[0,50.5],"nice":false},"axis":null}}},
{"data":{"name":"ax"},"mark":{"type":"point","opacity":0},"encoding":{"x":{"field":"t","type":"quantitative","scale":{"domain":[-1,8],"nice":false,"zero":false},"axis":{"orient":"bottom","offset":-4,"values":[-0.6667,-0.3333,0.3333,0.6667,1.3333,1.6667,2.3333,2.6667,3.3333,3.6667,4.3333,4.6667,5.3333,5.6667,6.3333,6.6667,7.3333,7.6667],"ticks":true,"tickSize":4,"tickWidth":1.5,"tickColor":"#000000","labels":false,"grid":false,"domain":false,"title":null,"zindex":1}},"y":{"field":"v","type":"quantitative","scale":{"domain":[0,50.5],"nice":false},"axis":null}}}
],"resolve":{"scale":{"y":"independent"},"axis":{"x":"independent","y":"independent"}}}
]
}
